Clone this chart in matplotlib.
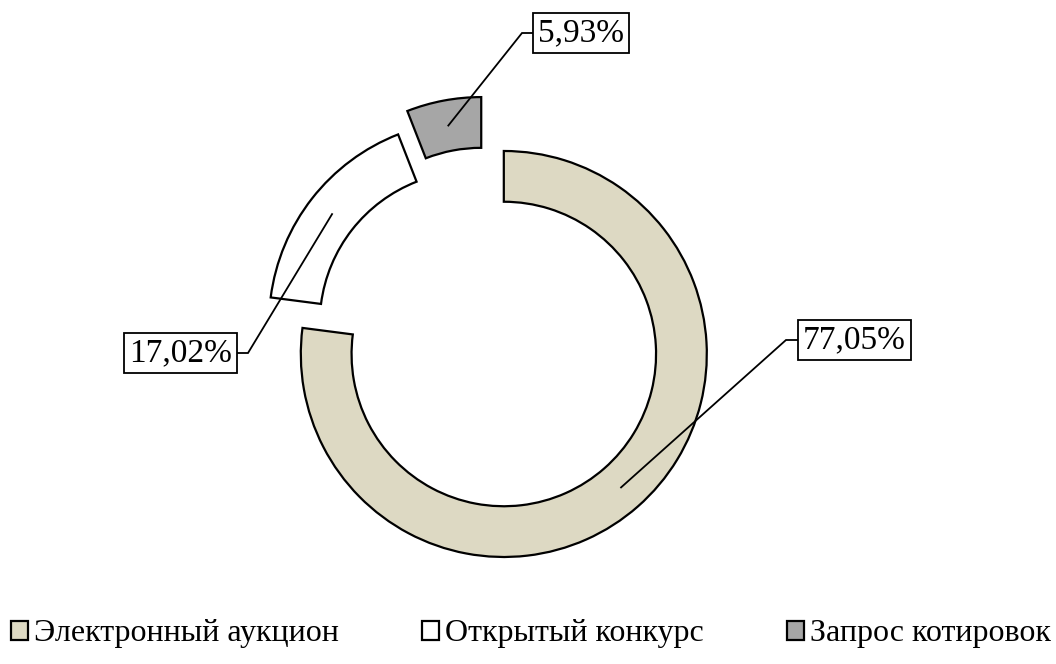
import numpy as np
import matplotlib
matplotlib.use("Agg")
import matplotlib.pyplot as plt

# ---- data ----
categories = ["Электронный аукцион", "Открытый конкурс", "Запрос котировок"]
values = [77.05, 17.02, 5.93]
labels = ["77,05%", "17,02%", "5,93%"]
colors = ["#DDD9C3", "#FFFFFF", "#A6A6A6"]
explode = [0.118, 0.10, 0.18]

plt.rcParams['font.family'] = ['Liberation Serif', 'DejaVu Serif']

W, H = 1056, 664
fig = plt.figure(figsize=(W / 100, H / 100), dpi=100)
ax = fig.add_axes([0, 0, 1, 1])
ax.set_axis_off()

# base center in pixels and pixel size of radius 1
CX, CY, RPX = 488, 336, 203

def px(x, y):
    return (x - CX) / RPX, (CY - y) / RPX

wedges, _ = ax.pie(values, colors=colors, explode=explode, startangle=90,
                   counterclock=False, radius=1.0,
                   wedgeprops=dict(width=0.25, edgecolor='black', linewidth=1.6),
                   frame=False)
ax.set_xlim(-CX / RPX, (W - CX) / RPX)
ax.set_ylim(-(H - CY) / RPX, CY / RPX)
ax.set_aspect('equal')

# label layout: (box edge x px, box center y px, elbow x px, side)
layout = [(798, 340, 786, 'left'), (237, 353, 248, 'right'), (533, 33, 522, 'left')]
fs = 24
pad_px = 5
for w, lab, (bx, by, ex, side) in zip(wedges, labels, layout):
    mid = np.deg2rad((w.theta1 + w.theta2) / 2)
    rmid = w.r - w.width / 2
    ax_, ay_ = w.center[0] + rmid * np.cos(mid), w.center[1] + rmid * np.sin(mid)
    exd, eyd = px(ex, by)
    bxd, _ = px(bx, by)
    ax.plot([ax_, exd, bxd], [ay_, eyd, eyd], color='black', lw=1.3,
            solid_joinstyle='miter', zorder=5)
    if side == 'left':
        tx, ha = px(bx + pad_px, by)[0], 'left'
    else:
        tx, ha = px(bx - pad_px, by)[0], 'right'
    ax.text(tx, eyd, lab, ha=ha, va='center', fontsize=fs, zorder=6,
            bbox=dict(boxstyle=f'square,pad={pad_px / (fs * 100 / 72):.3f}',
                      facecolor='white', edgecolor='black', linewidth=1.3))

leg = fig.legend(wedges, categories, loc='center', ncol=3,
                 bbox_to_anchor=(0.503, 1 - 634 / H), frameon=False,
                 fontsize=23, handlelength=0.53, handleheight=0.53,
                 handletextpad=0.19, columnspacing=2.6, borderaxespad=0,
                 borderpad=0)

fig.savefig("out.png", dpi=100, facecolor='white')
